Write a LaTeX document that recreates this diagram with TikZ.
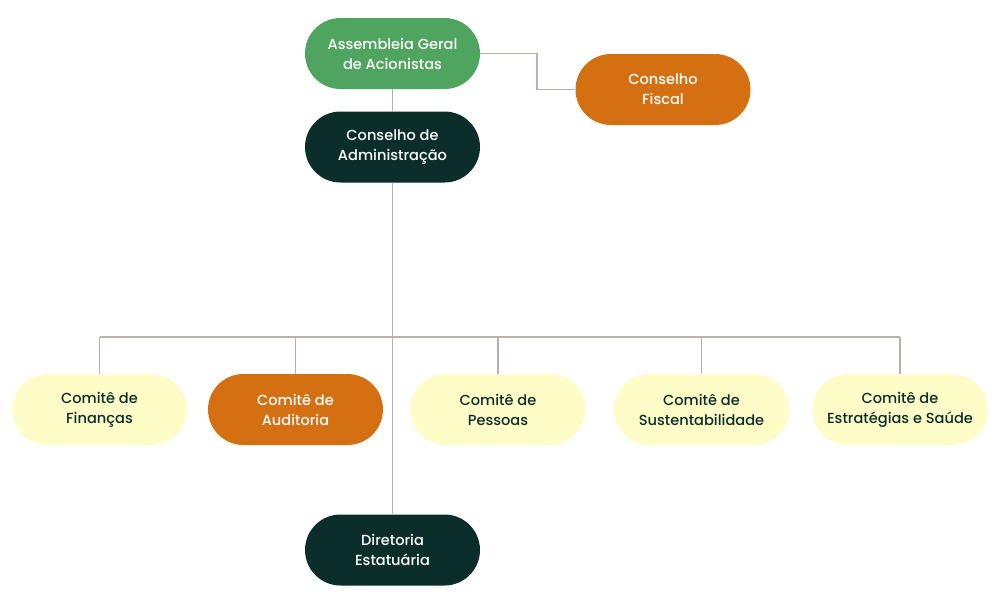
\documentclass[tikz,border=0pt]{standalone}
\usepackage{fontspec}
\setmainfont{Poppins}[UprightFont=* Medium]
\usetikzlibrary{positioning}
\definecolor{verde}{HTML}{4FA45F}
\definecolor{laranja}{HTML}{D46F12}
\definecolor{escuro}{HTML}{0B2E2A}
\definecolor{creme}{HTML}{FEFDC8}
\definecolor{linha}{HTML}{BDB0A8}
\tikzstyle{caixa} = [rectangle, rounded corners=0.71cm, minimum width=3.5cm, minimum height=1.42cm, align=center, font=\fontsize{8.3pt}{11.4pt}\selectfont, inner sep=0pt]
\tikzstyle{assembleia} = [caixa, fill=verde, text=white]
\tikzstyle{fiscal} = [caixa, fill=laranja, text=white]
\tikzstyle{conselho} = [caixa, fill=escuro, text=white]
\tikzstyle{comite} = [caixa, fill=creme, text=escuro]
\tikzstyle{ligacao} = [draw=linha, line width=0.85pt]

\begin{document}
\begin{tikzpicture}
    \useasboundingbox (0, 0) rectangle (20, -12.08);
    % topo
    \node[assembleia] (asm) at (7.85, -1.07) {Assembleia Geral\\de Acionistas};
    \node[fiscal] (fis) at (13.26, -1.79) {Conselho\\Fiscal};
    \node[conselho] (adm) at (7.85, -2.94) {Conselho de\\Administração};
    % comites
    \node[comite] (fin) at (1.99, -8.19) {Comitê de\\Finanças};
    \node[fiscal] (aud) at (5.91, -8.19) {Comitê de\\Auditoria};
    \node[comite] (pes) at (9.96, -8.19) {Comitê de\\Pessoas};
    \node[comite] (sus) at (14.03, -8.19) {Comitê de\\Sustentabilidade};
    \node[comite] (est) at (18.0, -8.19) {Comitê de\\Estratégias e Saúde};
    \node[conselho] (dir) at (7.85, -11.0) {Diretoria\\Estatuária};
    % ligacoes
    \coordinate (dobra) at (10.74, -1.4);
    \coordinate (barra) at (7.85, -6.74);
    \draw[ligacao] (asm.east) -- (asm.east -| dobra) -- (dobra |- fis.west) -- (fis.west);
    \draw[ligacao] (asm) -- (adm);
    \draw[ligacao] (adm) -- (dir);
    \draw[ligacao] (fin.north |- barra) -- (est.north |- barra);
    \foreach \c in {fin, aud, pes, sus, est}
        \draw[ligacao] (\c.north) -- (\c.north |- barra);
\end{tikzpicture}
\end{document}
